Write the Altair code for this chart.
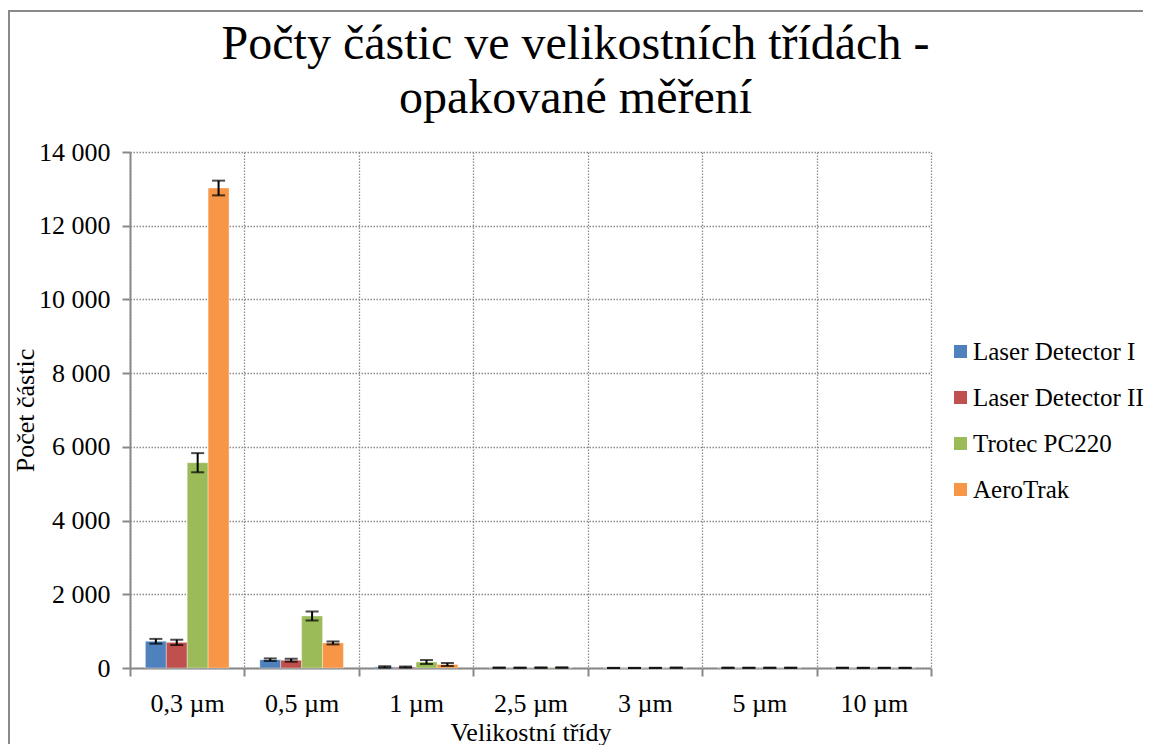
import altair as alt
import pandas as pd

categories = ["0,3 µm", "0,5 µm", "1 µm", "2,5 µm", "3 µm", "5 µm", "10 µm"]
series = ["Laser Detector I", "Laser Detector II", "Trotec PC220", "AeroTrak"]
colors = ["#4F81BD", "#C0504D", "#9BBB59", "#F79646"]

ld1 = [725, 225, 30, 8, 2, 6, 5]
ld1_err = [65, 35, 20, 4, 1, 3, 2]
ld2 = [695, 211, 25, 7, 2, 5, 4]
ld2_err = [72, 40, 15, 4, 1, 3, 2]
trotec = [5570, 1411, 162, 10, 3, 6, 4]
trotec_err = [260, 122, 54, 5, 1, 3, 2]
aero = [13023, 680, 95, 12, 8, 6, 4]
aero_err = [200, 40, 40, 5, 3, 3, 2]

y_ticks = [0, 2000, 4000, 6000, 8000, 10000, 12000, 14000]

rows = []
for name, vals, errs in zip(series, [ld1, ld2, trotec, aero], [ld1_err, ld2_err, trotec_err, aero_err]):
    for c, v, e in zip(categories, vals, errs):
        rows.append({"category": c, "series": name, "value": v, "lo": v - e, "hi": v + e})
df = pd.DataFrame(rows)

FONT = "Liberation Serif"
GRAY = "#898989"

x_enc = alt.X(
    "category:N", sort=categories,
    scale=alt.Scale(paddingInner=0, paddingOuter=0),
    axis=alt.Axis(
        title="Velikostní třídy", tickBand="extent", labelAngle=0,
        labelPadding=14, titlePadding=3, grid=True,
    ),
)
xo_enc = alt.XOffset("series:N", sort=series, scale=alt.Scale(paddingInner=0, paddingOuter=0.737))
y_scale = alt.Scale(domain=[0, 14000], nice=False)

base = alt.Chart(df)

bars = base.mark_bar(stroke="white", strokeWidth=0.6, strokeOpacity=0.6).encode(
    x=x_enc,
    xOffset=xo_enc,
    y=alt.Y(
        "value:Q", scale=y_scale,
        axis=alt.Axis(
            title="Počet částic", values=y_ticks,
            labelExpr="replace(format(datum.value, ',d'), ',', ' ')",
            labelPadding=12, titlePadding=0, grid=True,
        ),
    ),
    color=alt.Color(
        "series:N", sort=series,
        scale=alt.Scale(domain=series, range=colors),
        legend=alt.Legend(
            title=None, orient="none", legendX=818, legendY=187,
            symbolType="square", symbolSize=169, symbolStrokeWidth=0,
            labelFont=FONT, labelFontSize=25, labelColor="black",
            labelOffset=0, rowPadding=20, padding=0, labelLimit=300,
        ),
    ),
)

stems = base.mark_rule(color="black", strokeWidth=2).encode(
    x=alt.X("category:N", sort=categories), xOffset=xo_enc,
    y=alt.Y("lo:Q", scale=y_scale), y2="hi:Q",
)
cap_lo = base.mark_tick(color="black", thickness=2, size=13, orient="horizontal").encode(
    x=alt.X("category:N", sort=categories), xOffset=xo_enc,
    y=alt.Y("lo:Q", scale=y_scale),
)
cap_hi = base.mark_tick(color="black", thickness=2, size=13, orient="horizontal").encode(
    x=alt.X("category:N", sort=categories), xOffset=xo_enc,
    y=alt.Y("hi:Q", scale=y_scale),
)

# outer chart frame (left and top edges; the others lie outside the picture)
one = alt.Chart(pd.DataFrame({"a": [0]}))
border_left = one.mark_rule(color=GRAY, strokeWidth=2).encode(
    x=alt.value(-121), y=alt.value(-142), y2=alt.value(592)
)
border_top = one.mark_rule(color=GRAY, strokeWidth=2).encode(
    x=alt.value(-122), x2=alt.value(1013), y=alt.value(-141)
)

chart = alt.layer(border_left, border_top, bars, stems, cap_lo, cap_hi).properties(
    width=801, height=516,
    title=alt.TitleParams(
        ["Počty částic ve velikostních třídách -", "opakované měření"],
        anchor="middle", dx=45, dy=152, offset=0, baseline="alphabetic",
        font=FONT, fontSize=48, fontWeight="normal", color="black", lineHeight=54,
    ),
    autosize=alt.AutoSizeParams(type="none"),
    padding={"left": 122, "top": 144, "right": 213, "bottom": 77},
).configure_view(stroke=None).configure_axis(
    labelFont=FONT, labelFontSize=26, labelColor="black",
    titleFont=FONT, titleFontSize=26, titleFontWeight="normal", titleColor="black",
    domainColor=GRAY, domainWidth=2, tickColor=GRAY, tickWidth=2, tickSize=8,
    gridColor="#8c8c8c", gridDash=[1.5, 1.5], gridWidth=1.3,
)

chart.save("out.html", embed_options={"renderer": "svg", "actions": False})
